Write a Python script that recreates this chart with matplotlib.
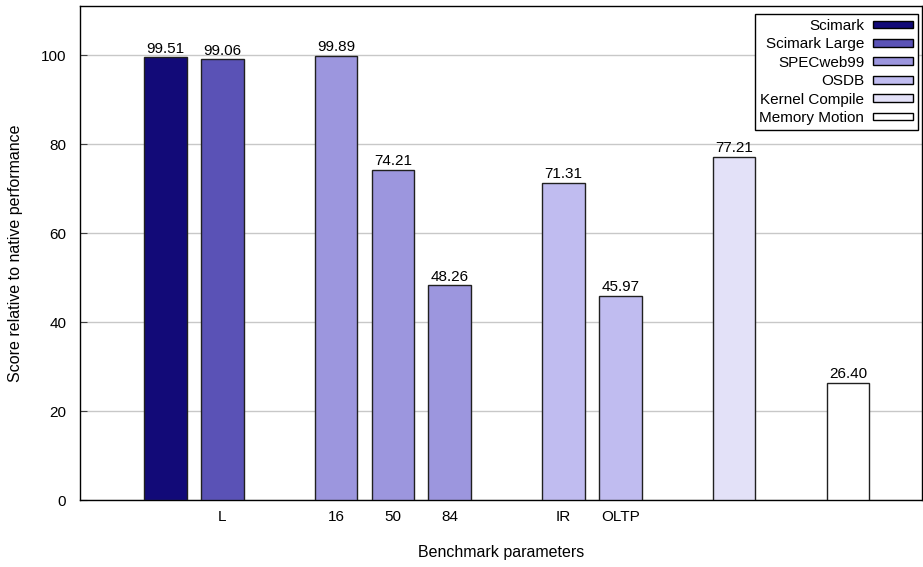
import matplotlib.pyplot as plt
from matplotlib.patches import Patch

plt.rcParams['font.family'] = ['Liberation Sans', 'DejaVu Sans']

# benchmark groups, each bar's slot on the x axis and its score
groups = ['Scimark', 'Scimark Large', 'SPECweb99', 'OSDB', 'Kernel Compile', 'Memory Motion']
colors = ['#120a78', '#5a52b6', '#9c96de', '#c0bcf0', '#e3e1f8', '#ffffff']
slots = [1, 2, 4, 5, 6, 8, 9, 11, 13]
scores = [99.51, 99.06, 99.89, 74.21, 48.26, 71.31, 45.97, 77.21, 26.40]
bar_group = [0, 1, 2, 2, 2, 3, 3, 4, 5]
tick_labels = ['', 'L', '16', '50', '84', 'IR', 'OLTP', '', '']

fs = 11

fig = plt.figure(figsize=(9.23, 5.67), dpi=100)
ax = fig.add_axes([0.0867, 0.118, 0.912, 0.871])

for x, s, g in zip(slots, scores, bar_group):
    ax.bar(x, s, width=0.75, color=colors[g], edgecolor='#202020', linewidth=1, zorder=3)
    ax.text(x, s + 0.4, '%.2f' % s, ha='center', va='bottom', fontsize=fs)

ax.set_xlim(-0.5, 14.3)
ax.set_ylim(0, 111)
ax.set_yticks(range(0, 101, 20))
ax.set_xticks(slots)
ax.set_xticklabels(tick_labels)
ax.tick_params(axis='y', direction='in', length=5, labelsize=fs, pad=10, color='#404040')
ax.tick_params(axis='x', length=0, labelsize=fs, pad=7)
ax.yaxis.grid(True, color='#c8c8c8', linewidth=1, zorder=0)
ax.set_axisbelow(True)
for sp in ax.spines.values():
    sp.set_linewidth(1)

ax.set_ylabel('Score relative to native performance', fontsize=11.5, labelpad=13)
ax.set_xlabel('Benchmark parameters', fontsize=11.5, labelpad=15)

handles = [Patch(facecolor=c, edgecolor='black', linewidth=1) for c in colors]
leg = ax.legend(handles, groups, loc='upper right', bbox_to_anchor=(0.9952, 0.9838),
                fontsize=fs, markerfirst=False,
                handlelength=2.6, handleheight=0.4, labelspacing=0.29,
                handletextpad=0.6, borderpad=0.3, borderaxespad=0,
                fancybox=False, framealpha=1, edgecolor='black')
leg.get_frame().set_linewidth(1)
leg.set_zorder(5)

fig.savefig('out.png', dpi=100)
